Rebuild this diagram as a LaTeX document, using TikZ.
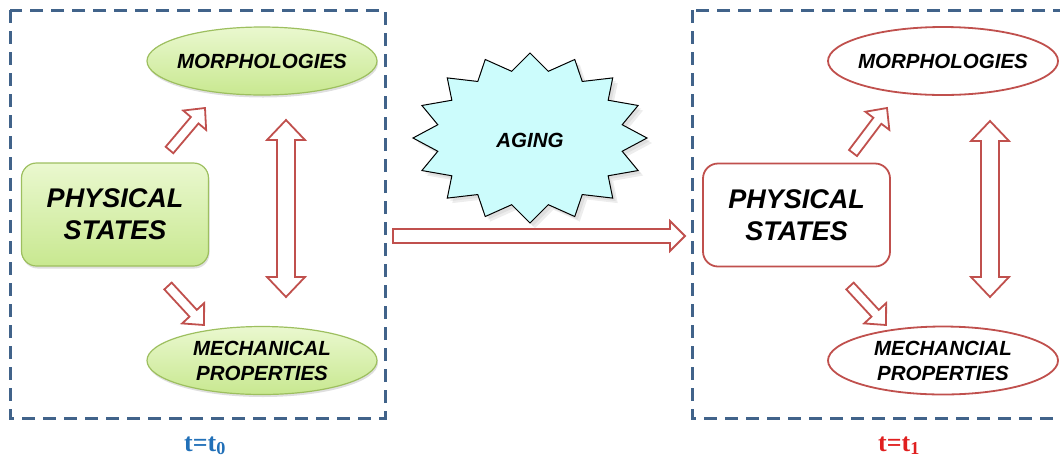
\documentclass[tikz,border=0pt]{standalone}
\usepackage{fontspec}
\setmainfont{Liberation Sans}
\newfontfamily\serifb{Liberation Serif}
\usetikzlibrary{calc,shapes.geometric,shadows}
\definecolor{dashblue}{HTML}{41638A}
\definecolor{arrred}{HTML}{C0504D}
\definecolor{gborder}{HTML}{9DBF5F}
\definecolor{gtop}{HTML}{EAF8CF}
\definecolor{gbot}{HTML}{C8E890}
\definecolor{starfill}{HTML}{CCFCFC}
\definecolor{tblue}{HTML}{2170B8}
\definecolor{tred}{HTML}{E01F1F}
\tikzset{
  frame/.style={draw=dashblue, line width=3pt, dash pattern=on 13pt off 8pt},
  blockarr/.style={draw=arrred, fill=white, line width=1.8pt, line join=miter},
  softshadow/.style={drop shadow={shadow xshift=1pt, shadow yshift=-2.5pt, opacity=0.25, fill=gray}},
  greenfill/.style={draw=gborder, line width=1.2pt, top color=gtop, bottom color=gbot, softshadow},
  redline/.style={draw=arrred, line width=1.8pt, fill=white},
  statebox/.style={rounded corners=15pt, minimum width=187pt, minimum height=103pt, inner sep=0pt,
    align=center, font=\fontsize{27}{32}\selectfont\bfseries\itshape},
  propell/.style={ellipse, minimum width=230pt, minimum height=68pt, inner xsep=-40pt, inner ysep=-10pt,
    align=center, font=\fontsize{20.5}{25}\selectfont\bfseries\itshape},
  timelabel/.style={font=\fontsize{26}{30}\selectfont\serifb\bfseries},
}
\newcommand\blockarrow[5]{%
  \coordinate (ba-h) at ($(#2)!#5!(#1)$);
  \draw[blockarr] ($(#1)!#3!90:(#2)$) -- ($(ba-h)!#3!90:(#2)$) -- ($(ba-h)!#4!90:(#2)$) -- (#2)
    -- ($(ba-h)!#4!-90:(#2)$) -- ($(ba-h)!#3!-90:(#2)$) -- ($(#1)!#3!-90:(#2)$) -- cycle;
}
\newcommand\dblarrow[5]{%
  \coordinate (da-a) at ($(#1)!#5!(#2)$);
  \coordinate (da-b) at ($(#2)!#5!(#1)$);
  \draw[blockarr] (#1) -- ($(da-a)!#4!90:(#2)$) -- ($(da-a)!#3!90:(#2)$) -- ($(da-b)!#3!90:(#2)$)
    -- ($(da-b)!#4!90:(#2)$) -- (#2) -- ($(da-b)!#4!-90:(#2)$) -- ($(da-b)!#3!-90:(#2)$)
    -- ($(da-a)!#3!-90:(#2)$) -- ($(da-a)!#4!-90:(#2)$) -- cycle;
}
\begin{document}
\begin{tikzpicture}[x=1pt, y=-1pt]
\useasboundingbox (0,0) rectangle (1060,459);
\clip (0,0) rectangle (1060,459);

% frames
\draw[frame] (10,10) rectangle (385,418);
\draw[frame] (692,10) rectangle (1080,418);

% left group
\node[statebox, greenfill] (lps) at (115,214.5) {PHYSICAL\\STATES};
\node[propell, greenfill] (lmo) at (262,61) {MORPHOLOGIES};
\node[propell, greenfill] (lme) at (262,360.5) {MECHANICAL\\PROPERTIES};

\coordinate (lur-t) at (169.5,150);  \coordinate (lur-h) at (205,108);
\coordinate (ldr-t) at (168,286);    \coordinate (ldr-h) at (204,325);
\coordinate (lv-a) at (286,120);     \coordinate (lv-b) at (286,297);
\blockarrow{lur-t}{lur-h}{5pt}{15pt}{16pt}
\blockarrow{ldr-t}{ldr-h}{5pt}{15pt}{16pt}
\dblarrow{lv-a}{lv-b}{9pt}{19pt}{20pt}

% aging star
\coordinate (starc) at (530,138);
\begin{scope}[shift={(starc)}]
  \fill[black, opacity=0.07] ($(5,5)+(90:117 and 85)$)
    \foreach \k in {0,...,15}{ -- ($(5,5)+({90+\k*22.5+11.25}:94 and 68)$) -- ($(5,5)+({90+(\k+1)*22.5}:117 and 85)$)} -- cycle;
  \fill[black, opacity=0.06] ($(3,3)+(90:117 and 85)$)
    \foreach \k in {0,...,15}{ -- ($(3,3)+({90+\k*22.5+11.25}:94 and 68)$) -- ($(3,3)+({90+(\k+1)*22.5}:117 and 85)$)} -- cycle;
  \draw[fill=starfill, line width=1pt, line join=miter] (90:117 and 85)
    \foreach \k in {0,...,15}{ -- ({90+\k*22.5+11.25}:94 and 68) -- ({90+(\k+1)*22.5}:117 and 85)} -- cycle;
\end{scope}
\node[font=\fontsize{20.5}{24}\selectfont\bfseries\itshape] (aging) at ($(starc)+(0,2)$) {AGING};

% main arrow
\coordinate (mid-t) at (393,236); \coordinate (mid-h) at (685,236);
\blockarrow{mid-t}{mid-h}{7pt}{15pt}{15pt}

% right group
\node[statebox, redline] (rps) at (796.5,215) {PHYSICAL\\STATES};
\node[propell, redline] (rmo) at (943,61) {MORPHOLOGIES};
\node[propell, redline] (rme) at (943,360.5) {MECHANCIAL\\PROPERTIES};

\coordinate (rur-t) at (853,153);  \coordinate (rur-h) at (887,108);
\coordinate (rdr-t) at (850,286);  \coordinate (rdr-h) at (886,325);
\coordinate (rv-a) at (990,121);   \coordinate (rv-b) at (990,297);
\blockarrow{rur-t}{rur-h}{5pt}{15pt}{16pt}
\blockarrow{rdr-t}{rdr-h}{5pt}{15pt}{16pt}
\dblarrow{rv-a}{rv-b}{9pt}{19pt}{20pt}

% time labels
\node[timelabel, text=tblue, anchor=base] (t0) at (205,451) {t=t\textsubscript{0}};
\node[timelabel, text=tred, anchor=base] (t1) at (899,451) {t=t\textsubscript{1}};
\end{tikzpicture}
\end{document}
